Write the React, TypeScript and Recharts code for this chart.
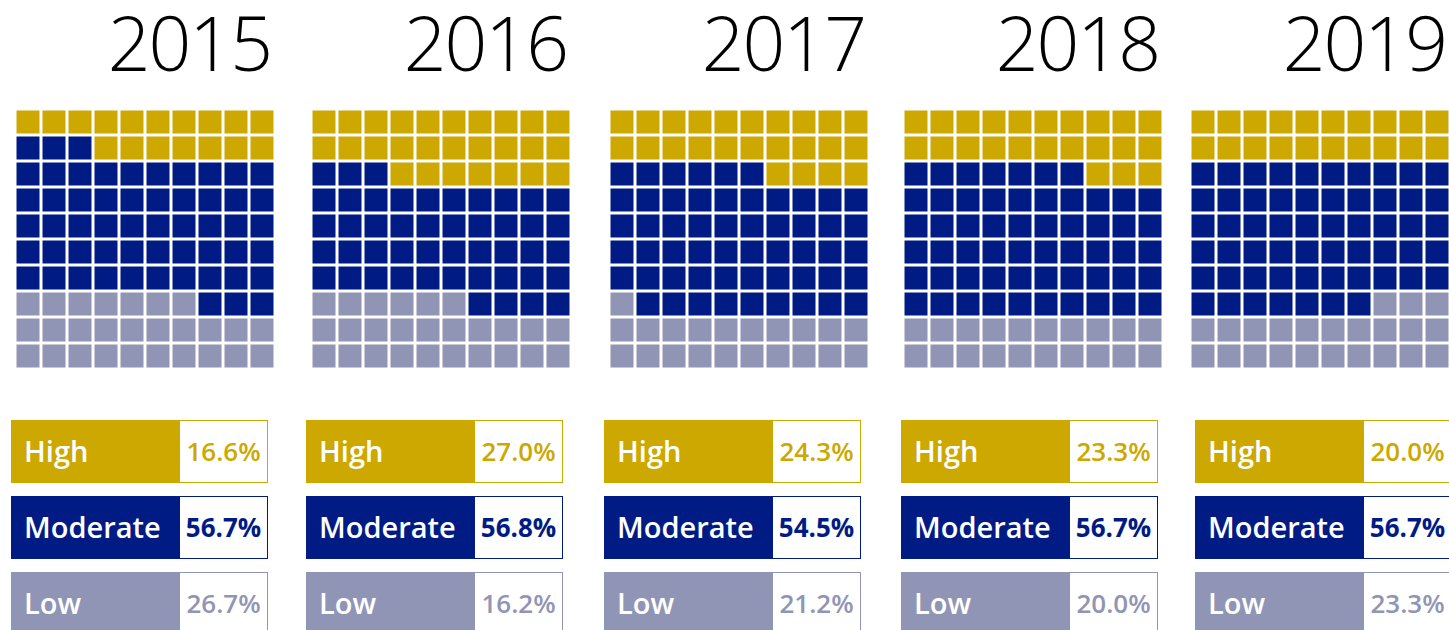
import { ScatterChart, Scatter, XAxis, YAxis } from 'recharts'

const years = ['2015', '2016', '2017', '2018', '2019']
const levels = ['High', 'Moderate', 'Low']

// shares shown in the legend boxes
const highPct = ['16.6%', '27.0%', '24.3%', '23.3%', '20.0%']
const moderatePct = ['56.7%', '56.8%', '54.5%', '56.7%', '56.7%']
const lowPct = ['26.7%', '16.2%', '21.2%', '20.0%', '23.3%']

// squares per level in each 10x10 waffle, as drawn
const highCells = [17, 27, 24, 23, 20]
const moderateCells = [56, 47, 55, 57, 57]
const lowCells = [27, 26, 21, 20, 23]
// which end the waffle starts filling from
const fillFrom = ['bottom', 'bottom', 'bottom', 'bottom', 'top']

const COLORS: Record<string, string> = {
  High: '#cca800',
  Moderate: '#001c84',
  Low: '#9195b5',
}

const gridLeft = [16, 312, 610, 904, 1191]
const legendLeft = [11, 306, 604, 901, 1195]
const CELL = 23
const CHART = 260

function buildCells(i: number) {
  const out: Record<string, { x: number; y: number }[]> = { High: [], Moderate: [], Low: [] }
  for (let k = 0; k < 100; k++) {
    const col = k % 10
    if (fillFrom[i] === 'bottom') {
      const row = 9 - Math.floor(k / 10)
      const lvl = k < lowCells[i] ? 'Low' : k < lowCells[i] + moderateCells[i] ? 'Moderate' : 'High'
      out[lvl].push({ x: col, y: row })
    } else {
      const row = Math.floor(k / 10)
      const lvl = k < highCells[i] ? 'High' : k < highCells[i] + moderateCells[i] ? 'Moderate' : 'Low'
      out[lvl].push({ x: col, y: row })
    }
  }
  return out
}

const Square = (props: any) => (
  <rect x={props.cx - CELL / 2} y={props.cy - CELL / 2} width={CELL} height={CELL} fill={props.fill} />
)

function Waffle({ i }: { i: number }) {
  const cells = buildCells(i)
  return (
    <ScatterChart width={CHART} height={CHART} margin={{ top: 0, right: 0, bottom: 0, left: 0 }}>
      <XAxis type="number" dataKey="x" domain={[-0.5, 9.5]} hide />
      <YAxis type="number" dataKey="y" domain={[-0.5, 9.5]} reversed hide />
      {levels.map(l => (
        <Scatter key={l} data={cells[l]} fill={COLORS[l]} shape={Square} isAnimationActive={false} />
      ))}
    </ScatterChart>
  )
}

function LegendRow({ label, value, top, left }: { label: string; value: string; top: number; left: number }) {
  const c = COLORS[label]
  return (
    <div style={{ position: 'absolute', left, top, width: 257, height: 63, display: 'flex' }}>
      <div
        style={{
          width: 169,
          height: 63,
          background: c,
          color: '#fff',
          fontSize: 29,
          fontWeight: 600,
          display: 'flex',
          alignItems: 'center',
          paddingLeft: 13,
          paddingBottom: 2,
          boxSizing: 'border-box',
          lineHeight: '40px',
        }}
      >
        {label}
      </div>
      <div
        style={{
          width: 88,
          height: 63,
          border: `1.5px solid ${c}`,
          borderLeft: 'none',
          boxSizing: 'border-box',
          color: c,
          fontSize: 26,
          fontWeight: label === 'Moderate' ? 700 : 600,
          display: 'flex',
          alignItems: 'center',
          justifyContent: 'center',
          paddingBottom: 2,
          lineHeight: '36px',
        }}
      >
        {value}
      </div>
    </div>
  )
}

export default function App() {
  return (
    <div
      style={{
        position: 'absolute',
        left: 0,
        top: 0,
        width: 1449,
        height: 630,
        overflow: 'hidden',
        background: '#fff',
        fontFamily: '"Open Sans", "Noto Sans", sans-serif',
      }}
    >
      <svg width={1449} height={95} style={{ position: 'absolute', left: 0, top: 0 }}>
        {years.map((y, i) => (
          <text
            key={y}
            x={gridLeft[i] + 255}
            y={71}
            textAnchor="end"
            fontSize={75}
            fontWeight={300}
            letterSpacing={-2}
            fill="#000"
            fontFamily='"Open Sans", "Noto Sans", sans-serif'
          >
            {y}
          </text>
        ))}
      </svg>
      {years.map((y, i) => (
        <div key={y}>
          <div style={{ position: 'absolute', left: gridLeft[i] - 1.5, top: 108.5 }}>
            <Waffle i={i} />
          </div>
          <LegendRow label="High" value={highPct[i]} top={420} left={legendLeft[i]} />
          <LegendRow label="Moderate" value={moderatePct[i]} top={496} left={legendLeft[i]} />
          <LegendRow label="Low" value={lowPct[i]} top={572} left={legendLeft[i]} />
        </div>
      ))}
    </div>
  )
}
